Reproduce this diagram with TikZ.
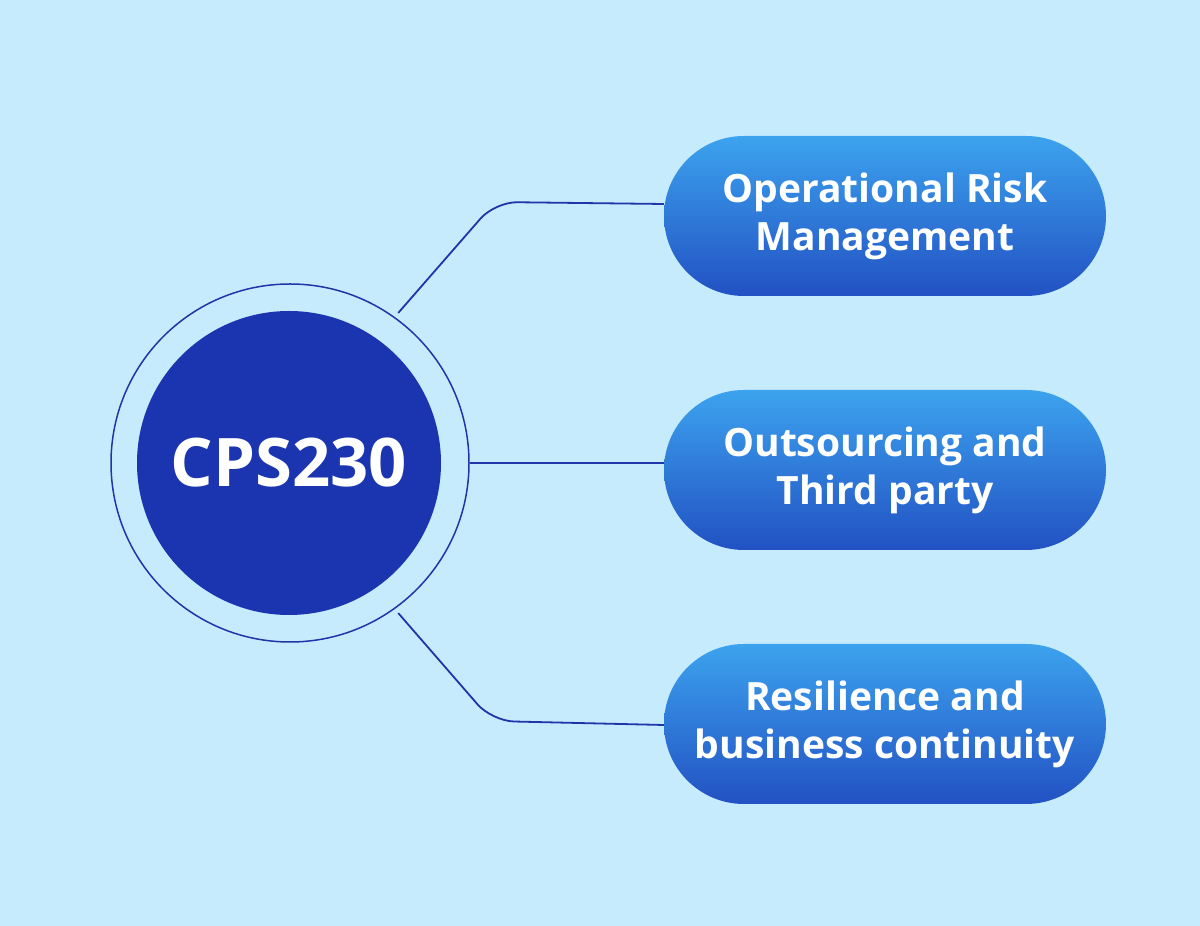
\documentclass[tikz,border=0pt]{standalone}
\usepackage{fontspec}
\setmainfont{Open Sans}
\usetikzlibrary{calc}
\definecolor{bgc}{HTML}{C6EBFD}
\definecolor{navy}{HTML}{1B35B0}
\definecolor{linec}{HTML}{1E36A8}
\definecolor{pilltop}{HTML}{3CA3EE}
\definecolor{pillbot}{HTML}{2251C3}
\tikzset{
  pill/.style={rectangle, rounded corners=80pt, minimum width=442pt, minimum height=160pt,
    top color=pilltop, bottom color=pillbot, draw=none, text=white, align=center,
    font=\fontsize{39}{48}\selectfont\bfseries, inner sep=0pt},
  conn/.style={draw=linec, line width=1.8pt, rounded corners=22pt},
}
\begin{document}
\begin{tikzpicture}[x=1pt,y=1pt]
\fill[bgc] (0,0) rectangle (1200,926);
\useasboundingbox (0,0) rectangle (1200,926);
\node[circle, draw=linec, line width=1.5pt, minimum size=358pt, inner sep=0pt] (outer) at (290,463) {};
\node[circle, fill=navy, minimum size=304pt, inner sep=0pt, text=white,
  font=\fontsize{67}{76}\selectfont\bfseries] (core) at (289,463) {CPS230};
\node[pill] (p1) at (885,710) {Operational Risk\\Management};
\node[pill] (p2) at (885,456) {Outsourcing and\\Third party};
\node[pill] (p3) at (885,202) {Resilience and\\business continuity};
\coordinate (s1) at ($(outer.center)+(54.2:185)$);
\coordinate (s3) at ($(outer.center)+(-54.2:185)$);
\coordinate (k1) at (495,724);
\coordinate (k3) at (492,205);
\draw[conn] (s1) -- (k1) -- ($(p1.west)+(0,12)$);
\draw[conn] (outer.east) -- (p2.west |- outer.east);
\draw[conn] (s3) -- (k3) -- ($(p3.west)+(0,-1)$);
\end{tikzpicture}
\end{document}
